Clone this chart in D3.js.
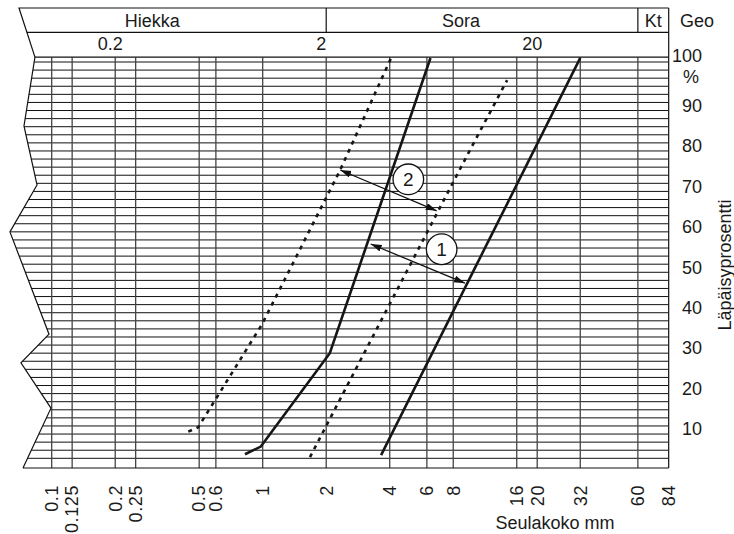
<!DOCTYPE html>
<html>
<head>
<meta charset="utf-8">
<script src="https://cdn.jsdelivr.net/npm/d3@7"></script>
<style>
  body { margin: 0; background: #fff; }
  svg text { font-family: "Liberation Sans", Arial, sans-serif; fill: #1a1a1a; }
</style>
</head>
<body>
<div id="chart"></div>
<script>
// sieve sizes (mm): gridlines and labels along the bottom
const sieveSizes = [0.1, 0.125, 0.2, 0.25, 0.5, 0.6, 1, 2, 4, 6, 8, 16, 20, 32, 60, 84];
const percentTicks = [10, 20, 30, 40, 50, 60, 70, 80, 90];
const headerTicks = [0.2, 2, 20];
const soilClasses = ['Hiekka', 'Sora', 'Kt'];
const soilClassAt = [0.3, 8.7, 71];   // where each class name sits (mm)
const soilClassBounds = [2, 60];       // class dividers (mm)

// grading curves, [mm, %]
const zone1Fine = [[0.824, 3.0], [0.98, 4.9], [2.08, 28.0], [6.24, 101]];
const zone1Coarse = [[3.64, 2.8], [32.0, 101]];
const zone2Fine = [[0.444, 8.6], [0.495, 9.7], [0.713, 23.0], [0.989, 35.0], [2.33, 73.3], [4.06, 101]];
const zone2Coarse = [[1.675, 2.3], [3.94, 39.5], [9.42, 77.4], [14.4, 95.5]];

// double arrows across each zone and the numbered circles
const zoneArrows = [
  [[3.25, 55.0], [9.09, 45.3]],
  [[2.33, 73.3], [6.68, 63.2]]
];
const zoneNames = ['1', '2'];
const zoneNameAt = [[7.05, 53.7], [4.90, 71.0]];

// jagged left edge of the grid, [mm, %]
const leftEdge = [[0.0833, 101.2], [0.0739, 84.2], [0.0852, 69.6], [0.0634, 58.0],
  [0.0971, 32.7], [0.0715, 25.6], [0.0992, 14.4], [0.0731, -0.4]];

class GradingChart {

  constructor(opts) {
    this.element = opts.element;
    this.width = opts.width;
    this.height = opts.height;
    this.draw();
  }

  draw() {
    this.element.innerHTML = '';
    this.svg = d3.select(this.element).append('svg')
      .attr('width', this.width)
      .attr('height', this.height);

    this.createScales();
    this.addGrid();
    this.addHeader();
    this.addAxes();
    this.addCurves();
    this.addArrows();
  }

  createScales() {
    this.xScale = d3.scaleLog()
      .domain([0.1, 84])
      .range([51.7, 668.7]);

    this.yScale = d3.scaleLinear()
      .domain([0, 100])
      .range([466.4, 62]);

    // the frame runs a touch past 0 and 100 %
    this.top = this.yScale(101.2);
    this.bottom = this.yScale(-0.4);
    this.right = this.xScale(84);
  }

  addGrid() {
    const x = this.xScale;
    const y = this.yScale;
    const edge = leftEdge.map(d => [x(d[0]), y(d[1])]);

    // clip the gridlines to the zigzag edge
    const clip = edge.concat([[this.right, this.bottom], [this.right, this.top]]);
    this.svg.append('clipPath')
      .attr('id', 'grid-clip')
      .append('polygon')
      .attr('points', clip.map(p => p.join(',')).join(' '));

    const grid = this.svg.append('g').attr('clip-path', 'url(#grid-clip)');

    grid.selectAll('.hline')
      .data(d3.range(2, 101, 2))
      .enter().append('line')
        .attr('class', 'hline')
        .attr('x1', 0)
        .attr('x2', this.right)
        .attr('y1', d => y(d))
        .attr('y2', d => y(d))
        .attr('stroke', '#111')
        .attr('stroke-width', 1);

    grid.selectAll('.vline')
      .data(sieveSizes.slice(0, -1))
      .enter().append('line')
        .attr('class', 'vline')
        .attr('x1', d => x(d))
        .attr('x2', d => x(d))
        .attr('y1', this.top)
        .attr('y2', this.bottom)
        .attr('stroke', '#444')
        .attr('stroke-width', 1.3);

    // frame: zigzag left, top, bottom, right
    this.svg.append('path')
      .attr('d', d3.line()(edge))
      .attr('fill', 'none')
      .attr('stroke', '#111')
      .attr('stroke-width', 1.2);

    const frame = [
      [edge[0][0], this.top, this.right, this.top],
      [edge[edge.length - 1][0], this.bottom, this.right, this.bottom],
      [this.right, 8, this.right, this.bottom]
    ];
    this.svg.selectAll('.frame')
      .data(frame)
      .enter().append('line')
        .attr('class', 'frame')
        .attr('x1', d => d[0]).attr('y1', d => d[1])
        .attr('x2', d => d[2]).attr('y2', d => d[3])
        .attr('stroke', '#111')
        .attr('stroke-width', 1.2);
  }

  addHeader() {
    const x = this.xScale;
    const g = this.svg.append('g');
    const left0 = 19;
    const left1 = x(leftEdge[0][0]);
    const mid = 32.3;

    // slanted left edge and the two header rows
    g.append('path')
      .attr('d', `M${left1},${this.top} L${left0},8 L${this.right},8`)
      .attr('fill', 'none')
      .attr('stroke', '#111')
      .attr('stroke-width', 1.2);

    g.append('line')
      .attr('x1', left0 + (left1 - left0) * (mid - 8) / (this.top - 8))
      .attr('x2', this.right)
      .attr('y1', mid).attr('y2', mid)
      .attr('stroke', '#111')
      .attr('stroke-width', 1.2);

    g.selectAll('.divider')
      .data(soilClassBounds)
      .enter().append('line')
        .attr('x1', d => x(d)).attr('x2', d => x(d))
        .attr('y1', 8).attr('y2', mid)
        .attr('stroke', '#111')
        .attr('stroke-width', 1.2);

    g.selectAll('.soil')
      .data(soilClasses)
      .enter().append('text')
        .attr('x', (d, i) => x(soilClassAt[i]))
        .attr('y', 27)
        .attr('text-anchor', 'middle')
        .style('font-size', '18px')
        .text(d => d);

    g.append('text')
      .attr('x', 680)
      .attr('y', 27)
      .style('font-size', '18px')
      .text('Geo');

    g.selectAll('.htick')
      .data(headerTicks)
      .enter().append('text')
        .attr('x', d => x(d) - 5)
        .attr('y', 49.5)
        .attr('text-anchor', 'middle')
        .style('font-size', '18px')
        .text(d => d);
  }

  addAxes() {
    const x = this.xScale;
    const y = this.yScale;

    // sieve sizes, rotated
    this.svg.selectAll('.xlabel')
      .data(sieveSizes)
      .enter().append('text')
        .attr('transform', d => `translate(${x(d)},485) rotate(-90)`)
        .attr('dy', '0.35em')
        .attr('text-anchor', 'end')
        .style('font-size', '18px')
        .style('letter-spacing', '0.6px')
        .text(d => d);

    this.svg.append('text')
      .attr('x', 555)
      .attr('y', 529)
      .attr('text-anchor', 'middle')
      .style('font-size', '18px')
      .text('Seulakoko mm');

    // percent labels on the right
    this.svg.selectAll('.ylabel')
      .data(percentTicks)
      .enter().append('text')
        .attr('x', 702)
        .attr('y', d => y(d) + 3)
        .attr('dy', '0.35em')
        .attr('text-anchor', 'end')
        .style('font-size', '18px')
        .text(d => d);

    this.svg.append('text')
      .attr('x', 702)
      .attr('y', this.top - 1)
      .attr('dy', '0.35em')
      .attr('text-anchor', 'end')
      .style('font-size', '18px')
      .text('100');

    this.svg.append('text')
      .attr('x', 699)
      .attr('y', this.top + 20)
      .attr('dy', '0.35em')
      .attr('text-anchor', 'end')
      .style('font-size', '18px')
      .text('%');

    this.svg.append('text')
      .attr('transform', 'translate(731,265) rotate(-90)')
      .attr('text-anchor', 'middle')
      .style('font-size', '18px')
      .text('Läpäisyprosentti');
  }

  addCurves() {
    const line = d3.line()
      .x(d => this.xScale(d[0]))
      .y(d => this.yScale(d[1]));

    const curves = [
      { data: zone1Fine, dash: null },
      { data: zone1Coarse, dash: null },
      { data: zone2Fine, dash: '4,5' },
      { data: zone2Coarse, dash: '4,5' }
    ];

    this.svg.selectAll('.curve')
      .data(curves)
      .enter().append('path')
        .attr('class', 'curve')
        .attr('d', d => line(d.data))
        .attr('fill', 'none')
        .attr('stroke', '#161616')
        .attr('stroke-width', 2.6)
        .attr('stroke-dasharray', d => d.dash);
  }

  addArrows() {
    const x = this.xScale;
    const y = this.yScale;

    this.svg.append('defs').append('marker')
      .attr('id', 'head')
      .attr('markerUnits', 'userSpaceOnUse')
      .attr('markerWidth', 12)
      .attr('markerHeight', 8)
      .attr('refX', 11)
      .attr('refY', 3.5)
      .attr('orient', 'auto-start-reverse')
      .append('path')
        .attr('d', 'M0,0 L11,3.5 L0,7 Z')
        .attr('fill', '#111');

    this.svg.selectAll('.arrow')
      .data(zoneArrows)
      .enter().append('line')
        .attr('class', 'arrow')
        .attr('x1', d => x(d[0][0])).attr('y1', d => y(d[0][1]))
        .attr('x2', d => x(d[1][0])).attr('y2', d => y(d[1][1]))
        .attr('stroke', '#111')
        .attr('stroke-width', 1.3)
        .attr('marker-start', 'url(#head)')
        .attr('marker-end', 'url(#head)');

    const tags = this.svg.selectAll('.tag')
      .data(zoneNames)
      .enter().append('g')
        .attr('transform', (d, i) => `translate(${x(zoneNameAt[i][0])},${y(zoneNameAt[i][1])})`);

    tags.append('circle')
      .attr('r', 15.3)
      .attr('fill', '#fff')
      .attr('stroke', '#111')
      .attr('stroke-width', 1.3);

    tags.append('text')
      .attr('dy', '0.36em')
      .attr('text-anchor', 'middle')
      .style('font-size', '19px')
      .text(d => d);
  }
}

new GradingChart({
  element: document.getElementById('chart'),
  width: 734,
  height: 534
});
</script>
</body>
</html>
